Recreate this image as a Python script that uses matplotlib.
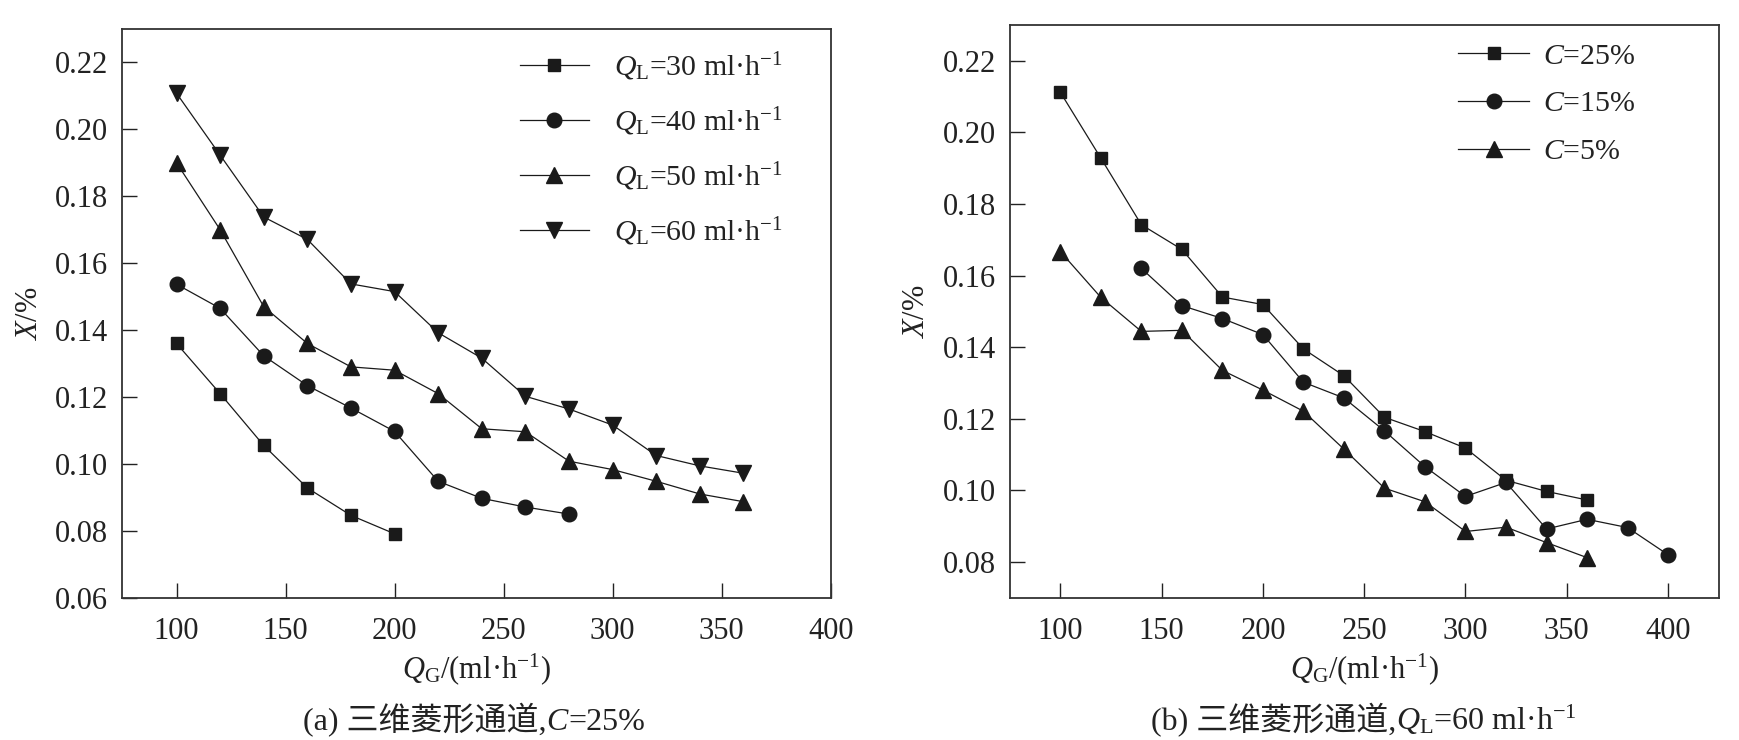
import matplotlib
matplotlib.use("Agg")
import matplotlib.pyplot as plt
from matplotlib.offsetbox import TextArea, HPacker, AnnotationBbox

plt.rcParams['font.family'] = ['Liberation Serif', 'Noto Sans CJK SC']
plt.rcParams['mathtext.fontset'] = 'custom'
plt.rcParams['mathtext.rm'] = 'Liberation Serif'
plt.rcParams['mathtext.it'] = 'Liberation Serif:italic'
plt.rcParams['mathtext.bf'] = 'Liberation Serif:bold'

# ---- data (a) ----
qg_30 = [100, 120, 140, 160, 180, 200]
x_30 = [0.136, 0.121, 0.1055, 0.0928, 0.0846, 0.0791]
qg_40 = [100, 120, 140, 160, 180, 200, 220, 240, 260, 280]
x_40 = [0.1537, 0.1465, 0.1323, 0.1234, 0.1167, 0.1097, 0.0948, 0.0897, 0.0871, 0.085]
qg_50 = [100, 120, 140, 160, 180, 200, 220, 240, 260, 280, 300, 320, 340, 360]
x_50 = [0.190, 0.170, 0.147, 0.136, 0.129, 0.128, 0.121, 0.1105, 0.1096, 0.1008,
        0.0983, 0.0948, 0.091, 0.0887]
qg_60 = [100, 120, 140, 160, 180, 200, 220, 240, 260, 280, 300, 320, 340, 360]
x_60 = [0.2108, 0.1923, 0.1738, 0.1671, 0.1538, 0.1515, 0.1392, 0.1316, 0.1202,
        0.1164, 0.1116, 0.1025, 0.0994, 0.0972]

# ---- data (b) ----
qg_c25 = [100, 120, 140, 160, 180, 200, 220, 240, 260, 280, 300, 320, 340, 360]
x_c25 = [0.2112, 0.1928, 0.1742, 0.1673, 0.154, 0.1519, 0.1395, 0.132, 0.1204,
         0.1164, 0.1118, 0.1028, 0.0997, 0.0973]
qg_c15 = [140, 160, 180, 200, 220, 240, 260, 280, 300, 320, 340, 360, 380, 400]
x_c15 = [0.162, 0.1516, 0.148, 0.1435, 0.1302, 0.1258, 0.1166, 0.1066, 0.0983,
         0.1022, 0.0892, 0.0919, 0.0896, 0.082]
qg_c5 = [100, 120, 140, 160, 180, 200, 220, 240, 260, 280, 300, 320, 340, 360]
x_c5 = [0.1667, 0.1539, 0.1444, 0.1447, 0.1335, 0.128, 0.1221, 0.1115, 0.1006,
        0.0968, 0.0885, 0.0897, 0.0854, 0.0812]

labels_a = [r'$Q_{\rm L}$=30 ml·h$^{-1}$', r'$Q_{\rm L}$=40 ml·h$^{-1}$',
            r'$Q_{\rm L}$=50 ml·h$^{-1}$', r'$Q_{\rm L}$=60 ml·h$^{-1}$']
labels_b = [r'$C$=25%', r'$C$=15%', r'$C$=5%']
xticks = [100, 150, 200, 250, 300, 350, 400]
yticks_a = [0.06, 0.08, 0.10, 0.12, 0.14, 0.16, 0.18, 0.20, 0.22]
yticks_b = [0.08, 0.10, 0.12, 0.14, 0.16, 0.18, 0.20, 0.22]

fig = plt.figure(figsize=(17.4, 7.4), dpi=100)
W, H = 1740, 740
ax1 = fig.add_axes([122 / W, 1 - 597.7 / H, (830.7 - 122) / W, (597.7 - 29) / H])
ax2 = fig.add_axes([1009.7 / W, 1 - 597.7 / H, (1718.7 - 1009.7) / W, (597.7 - 25) / H])

col = '#1a1a1a'
lw = 0.9
kw = dict(color=col, lw=lw, markeredgecolor=col, markerfacecolor=col)

ax1.plot(qg_30, x_30, marker='s', ms=9, label=labels_a[0], **kw)
ax1.plot(qg_40, x_40, marker='o', ms=10.5, label=labels_a[1], **kw)
ax1.plot(qg_50, x_50, marker='^', ms=11, label=labels_a[2], **kw)
ax1.plot(qg_60, x_60, marker='v', ms=11, label=labels_a[3], **kw)

ax2.plot(qg_c25, x_c25, marker='s', ms=9, label=labels_b[0], **kw)
ax2.plot(qg_c15, x_c15, marker='o', ms=10.5, label=labels_b[1], **kw)
ax2.plot(qg_c5, x_c5, marker='^', ms=11, label=labels_b[2], **kw)

ax1.set_xlim(75, 400)
ax1.set_ylim(0.06, 0.23)
ax1.set_yticks(yticks_a)
ax1.set_yticklabels([f'{v:.2f}' for v in yticks_a])
ax2.set_xlim(75, 425)
ax2.set_ylim(0.07, 0.23)
ax2.set_yticks(yticks_b)
ax2.set_yticklabels([f'{v:.2f}' for v in yticks_b])

for ax in (ax1, ax2):
    ax.set_xticks(xticks)
    ax.set_xticklabels([str(v) for v in xticks])
    ax.tick_params(direction='in', length=11, width=1.0, labelsize=22, pad=10,
                   colors='#222222')
    ax.tick_params(axis='x', pad=14)
    ax.tick_params(top=False, right=False)
    for s in ax.spines.values():
        s.set_linewidth(1.3)
        s.set_color('#333333')
    ax.set_xlabel(r'$Q_{\rm G}$/(ml·h$^{-1}$)', fontsize=22, labelpad=4, color='#222222')
    ax.set_ylabel(r'$X$/%', fontsize=22, labelpad=8, color='#222222')

leg1 = ax1.legend(loc='upper left', bbox_to_anchor=(0.5616, 0.963), frameon=False,
                  fontsize=21.5, handlelength=2.3, handletextpad=0.85, labelspacing=0.76,
                  borderpad=0, borderaxespad=0)
leg2 = ax2.legend(loc='upper left', bbox_to_anchor=(0.632, 0.969), frameon=False,
                  fontsize=21.5, handlelength=2.4, handletextpad=0.45, labelspacing=0.70,
                  borderpad=0, borderaxespad=0)
for leg in (leg1, leg2):
    for t in leg.get_texts():
        t.set_color('#222222')


def caption(parts, xy):
    boxes = [TextArea(s, textprops=dict(fontsize=23, color='#222222', **p)) for s, p in parts]
    pack = HPacker(children=boxes, align='baseline', pad=0, sep=0)
    ab = AnnotationBbox(pack, xy, xycoords='figure pixels', frameon=False,
                        box_alignment=(0.5, 0.5))
    fig.add_artist(ab)


caption([('(a) 三维菱形通道,', {}), ('C', dict(style='italic')), ('=25%', {})],
        (474, H - 720))
caption([('(b) 三维菱形通道,', {}), (r'$Q_{\rm L}$=60 ml·h$^{-1}$', {})],
        (1364, H - 720))

fig.savefig('out.png', dpi=100)
